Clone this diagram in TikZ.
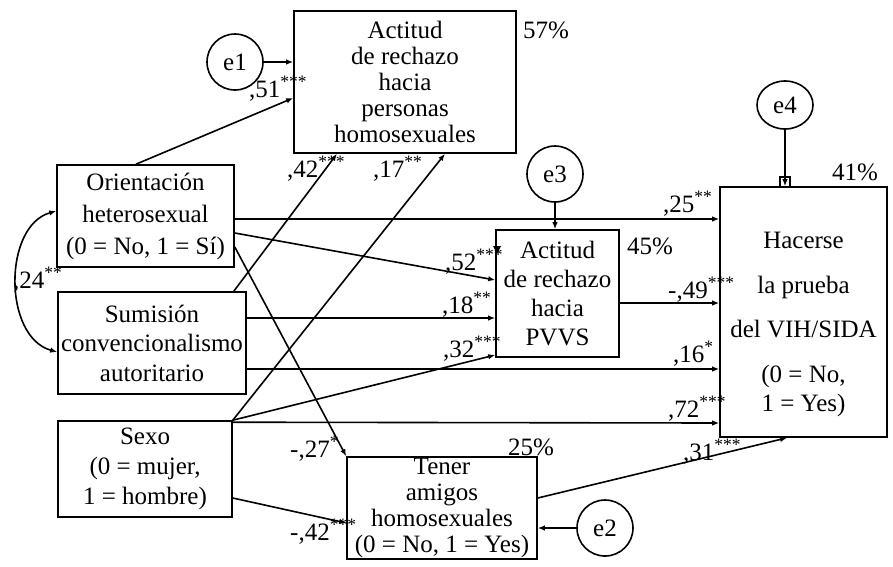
\documentclass[tikz,border=0pt]{standalone}
\usepackage{fontspec}
\setmainfont{Liberation Serif}
\usetikzlibrary{arrows.meta,shapes.geometric}
\begin{document}
\begin{tikzpicture}[x=1pt,y=-1pt,
  font=\fontsize{25}{26}\selectfont,
  box/.style={draw,line width=1.6pt,inner sep=0pt,align=center},
  err/.style={draw,line width=1.6pt,circle,inner sep=0pt,minimum size=56pt},
  conn/.style={line width=1.6pt,-{Latex[length=7pt,width=5.5pt]}},
  lab/.style={anchor=base west,inner sep=0pt},
]
\useasboundingbox (0,0) rectangle (893,566);
% boxes
\node[box,minimum width=222pt,minimum height=142pt,font=\fontsize{25}{26}\selectfont] (a1) at (405,82)
  {Actitud\\de rechazo\\hacia\\personas\\homosexuales};
\node[box,minimum width=177pt,minimum height=102pt,font=\fontsize{25}{32}\selectfont] (orient) at (145.5,216)
  {Orientación\\heterosexual\\(0 = No, 1 = Sí)};
\node[box,minimum width=188pt,minimum height=102pt,font=\fontsize{25}{29.5}\selectfont] (sum) at (152,343)
  {Sumisión\\convencionalismo\\autoritario};
\node[box,minimum width=174pt,minimum height=96pt,font=\fontsize{25}{30}\selectfont] (sexo) at (145,469)
  {Sexo\\(0 = mujer,\\1 = hombre)};
\node[box,minimum width=123pt,minimum height=127pt,font=\fontsize{25}{28.7}\selectfont] (pvvs) at (557.5,293.5)
  {Actitud\\de rechazo\\hacia\\PVVS};
\node[box,minimum width=167pt,minimum height=250pt,font=\fontsize{25}{29}\selectfont] (hac) at (803.5,312)
  {\rule{0pt}{41pt}Hacerse\\[16pt]la prueba\\[15pt]del VIH/SIDA\\[16pt](0 = No,\\1 = Yes)};
\node[box,minimum width=190pt,minimum height=102pt,font=\fontsize{25}{25.7}\selectfont] (tener) at (442,508)
  {Tener\\amigos\\homosexuales\\(0 = No, 1 = Yes)};
% error terms
\node[err] (e1) at (235,62) {e1};
\node[err] (e2) at (605,528) {e2};
\node[err] (e3) at (555,174) {e3};
\node[draw,line width=1.6pt,ellipse,inner sep=0pt,minimum width=56pt,minimum height=48pt] (e4) at (785,105) {e4};
% connectors
\draw[conn] (e1.east) -- (a1.west |- e1.east);
\draw[conn] ([xshift=-9.5pt]orient.north) -- (a1.west |- 0,98);
\draw[conn] ([xshift=-13pt]sum.north east) -- (a1.south -| 337,0);
\draw[conn] (sexo.north east) -- (a1.south -| 445,0);
\draw[conn] (orient.east |- 0,233) -- (pvvs.west |- 0,280);
\draw[conn] (sum.east |- 0,318) -- (pvvs.west |- 0,318);
\draw[conn] (sexo.north east) -- (pvvs.west |- 0,355);
\draw[conn] (e3.south) -- (pvvs.north -| e3.south);
\draw[conn] (orient.east |- 0,219) -- (hac.west |- 0,219);
\draw[conn] (pvvs.east |- 0,303) -- (hac.west |- 0,303);
\draw[conn] (sum.east |- 0,369) -- (hac.west |- 0,369);
\draw[conn] ([yshift=-2pt]sexo.north east) -- (hac.west |- 0,423);
\draw[conn] (e4.south) -- (hac.north -| e4.south);
\draw[line width=1.1pt] (780,177) rectangle (790,187);
\draw[conn] (orient.east |- 0,247) -- (tener.north west);
\draw[conn] (sexo.east |- 0,498) -- (tener.west |- 0,523);
\draw[conn] (tener.east |- 0,498) -- (hac.south -| 787,0);
\draw[conn] (e2.west) -- (tener.east |- e2.west);
\draw[line width=1.6pt,{Latex[length=7pt,width=5.5pt]}-{Latex[length=7pt,width=5.5pt]}]
  (orient.west |- 0,211) .. controls (3,226) and (3,337) .. (sum.west |- 0,352);
\fill (493,246) -- (501,246) -- (497,254) -- cycle;
% percentages
\node[lab] (p57) at (523,38) {57\%};
\node[lab] (p45) at (627,254) {45\%};
\node[lab] (p41) at (832,180) {41\%};
\node[lab] (p25) at (508,455) {25\%};
% coefficients
\node[lab] (c51) at (249,97) {,51\textsuperscript{***}};
\node[lab] (c42a) at (287,177) {,42\textsuperscript{***}};
\node[lab] (c17) at (373,177) {,17\textsuperscript{**}};
\node[lab] (c25) at (663,212) {,25\textsuperscript{**}};
\node[lab] (c52) at (445,270) {,52\textsuperscript{***}};
\node[lab] (c18) at (442,313) {,18\textsuperscript{**}};
\node[lab] (c32) at (443,357) {,32\textsuperscript{***}};
\node[lab] (c49) at (668,298) {-,49\textsuperscript{***}};
\node[lab] (c16) at (673,362) {,16\textsuperscript{*}};
\node[lab] (c72) at (668,417) {,72\textsuperscript{***}};
\node[lab] (c31) at (683,460) {,31\textsuperscript{***}};
\node[lab] (c27) at (290,457) {-,27\textsuperscript{*}};
\node[lab] (c42b) at (290,540) {-,42\textsuperscript{***}};
\node[lab] (c24) at (13,288) {,24\textsuperscript{**}};
\end{tikzpicture}
\end{document}
